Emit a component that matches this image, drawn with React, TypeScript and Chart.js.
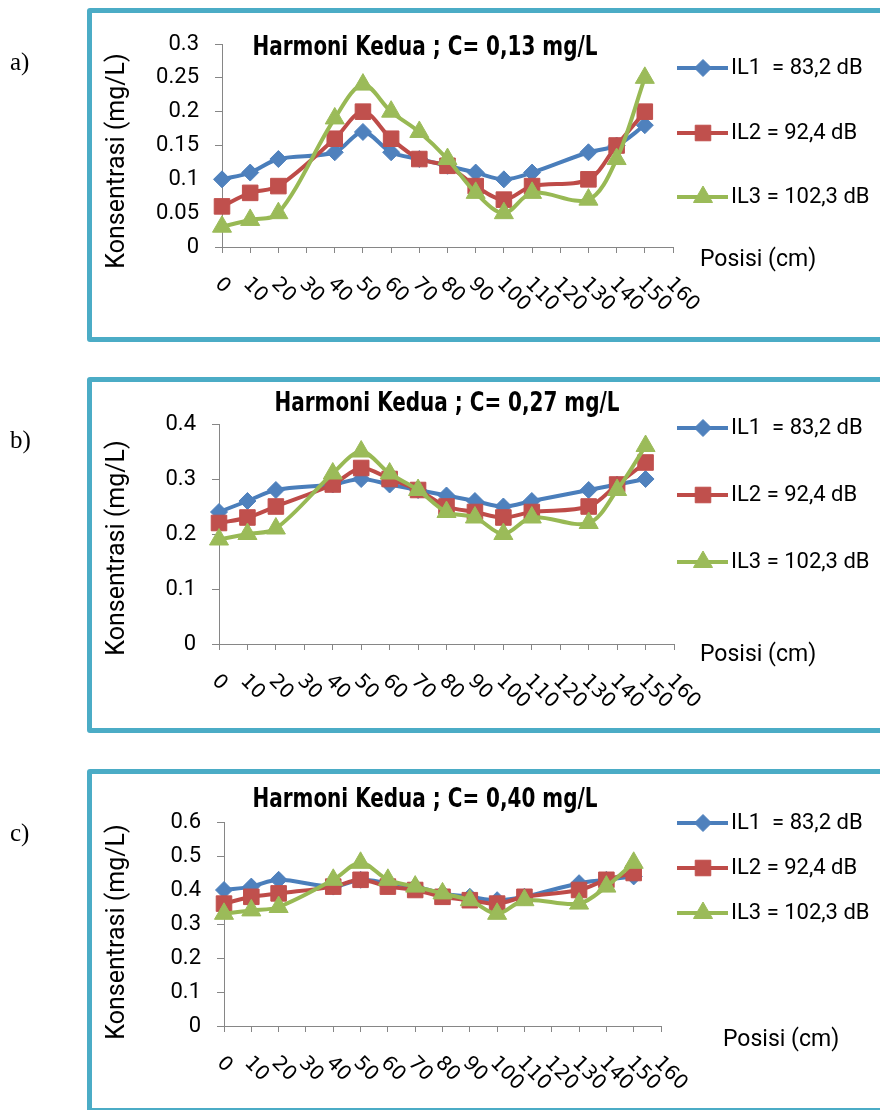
import React, { useEffect, useRef } from 'react';
import { Chart, registerables } from 'chart.js';
import { drawPoint } from 'chart.js/helpers';

Chart.register(...registerables);

// ---------- DATA ----------
const positions = ['0', '10', '20', '30', '40', '50', '60', '70', '80', '90', '100', '110', '120', '130', '140', '150', '160'];
const seriesNames = ['IL1  = 83,2 dB', 'IL2 = 92,4 dB', 'IL3 = 102,3 dB'];

// Panel a) C = 0,13 mg/L
const a_IL1 = [0.10, 0.11, 0.13, null, 0.14, 0.17, 0.14, 0.13, 0.12, 0.11, 0.10, 0.11, null, 0.14, 0.15, 0.18, null];
const a_IL2 = [0.06, 0.08, 0.09, null, 0.16, 0.20, 0.16, 0.13, 0.12, 0.09, 0.07, 0.09, null, 0.10, 0.15, 0.20, null];
const a_IL3 = [0.03, 0.04, 0.05, null, 0.19, 0.24, 0.20, 0.17, 0.13, 0.08, 0.05, 0.08, null, 0.07, 0.13, 0.25, null];

// Panel b) C = 0,27 mg/L
const b_IL1 = [0.24, 0.26, 0.28, null, 0.29, 0.30, 0.29, 0.28, 0.27, 0.26, 0.25, 0.26, null, 0.28, 0.29, 0.30, null];
const b_IL2 = [0.22, 0.23, 0.25, null, 0.29, 0.32, 0.30, 0.28, 0.25, 0.24, 0.23, 0.24, null, 0.25, 0.29, 0.33, null];
const b_IL3 = [0.19, 0.20, 0.21, null, 0.31, 0.35, 0.31, 0.28, 0.24, 0.23, 0.20, 0.23, null, 0.22, 0.28, 0.36, null];

// Panel c) C = 0,40 mg/L
const c_IL1 = [0.40, 0.41, 0.43, null, 0.41, 0.43, 0.42, 0.41, 0.39, 0.38, 0.37, 0.38, null, 0.42, 0.43, 0.44, null];
const c_IL2 = [0.36, 0.38, 0.39, null, 0.41, 0.43, 0.41, 0.40, 0.38, 0.37, 0.36, 0.38, null, 0.40, 0.43, 0.45, null];
const c_IL3 = [0.33, 0.34, 0.35, null, 0.43, 0.48, 0.43, 0.41, 0.39, 0.37, 0.33, 0.37, null, 0.36, 0.41, 0.48, null];

const titles = ['Harmoni Kedua ; C= 0,13 mg/L', 'Harmoni Kedua ; C= 0,27 mg/L', 'Harmoni Kedua ; C= 0,40 mg/L'];
const yMaxes = [0.3, 0.4, 0.6];
const ySteps = [0.05, 0.1, 0.1];
const yTitle = 'Konsentrasi (mg/L)';
const xTitle = 'Posisi (cm)';
const panelLetters = ['a)', 'b)', 'c)'];

// ---------- STYLE ----------
const lineColors = ['#4A7EBB', '#BE4B48', '#98B954'];
const markColors = ['#4F81BD', '#C0504D', '#9BBB59'];
const markStyles = ['rectRot', 'rect', 'triangle'];
const markRadius = [8.5, 11, 11];
const AXIS = '#868686';
const BORDER = '#4BACC6';

type Layout = {
  top: number; height: number;
  pad: { top: number; left: number; right: number; bottom: number };
  title: { x: number; y: number };
  yTitleY: number;
  legendY: number[];
  posisi: { x: number; y: number };
  letterY: number;
};

const layouts: Layout[] = [
  { top: 8, height: 334, pad: { top: 36, left: 122, right: 207, bottom: 85 }, title: { x: 425, y: 48 }, yTitleY: 161, legendY: [68, 133, 197], posisi: { x: 700, y: 260 }, letterY: 62 },
  { top: 377, height: 356, pad: { top: 47, left: 119, right: 206, bottom: 79 }, title: { x: 447, y: 404 }, yTitleY: 548, legendY: [428, 495, 562], posisi: { x: 700, y: 655 }, letterY: 440 },
  { top: 769, height: 344, pad: { top: 53, left: 124, right: 219, bottom: 77 }, title: { x: 425, y: 800 }, yTitleY: 932, legendY: [823, 868, 913], posisi: { x: 723, y: 1040 }, letterY: 833 },
];

const TITLE_WIDTH = 345;

const panelData = [
  [a_IL1, a_IL2, a_IL3],
  [b_IL1, b_IL2, b_IL3],
  [c_IL1, c_IL2, c_IL3],
];

function Panel({ idx }: { idx: number }) {
  const ref = useRef<HTMLCanvasElement | null>(null);
  const L = layouts[idx];

  useEffect(() => {
    if (!ref.current) return;
    const top = L.top;
    const decor = {
      id: 'decor' + idx,
      afterDraw(chart: any) {
        const ctx = chart.ctx as CanvasRenderingContext2D;
        const xs = chart.scales.x;
        const area = chart.chartArea;
        ctx.save();
        // rotated x tick labels
        ctx.fillStyle = '#000';
        ctx.font = '20px "DejaVu Sans", sans-serif';
        ctx.textAlign = 'left';
        ctx.textBaseline = 'middle';
        positions.forEach((lab, i) => {
          const px = xs.getPixelForValue(i);
          ctx.save();
          ctx.translate(px - 4, area.bottom + 34);
          ctx.rotate(Math.PI / 4);
          ctx.fillText(lab, 0, 0);
          ctx.restore();
        });
        // title (condensed bold)
        ctx.save();
        ctx.font = 'bold 26px "DejaVu Sans Condensed", "DejaVu Sans", sans-serif';
        ctx.textAlign = 'center';
        const w = ctx.measureText(titles[idx]).width;
        const sx = TITLE_WIDTH / w;
        ctx.translate(L.title.x, L.title.y - top);
        ctx.scale(sx, 1);
        ctx.fillText(titles[idx], 0, 0);
        ctx.restore();
        // y title
        ctx.save();
        ctx.translate(118, L.yTitleY - top);
        ctx.rotate(-Math.PI / 2);
        ctx.font = '25px Roboto, sans-serif';
        ctx.textAlign = 'center';
        ctx.fillText(yTitle, 0, 0);
        ctx.restore();
        // x title
        ctx.font = '23px Roboto, sans-serif';
        ctx.textAlign = 'left';
        ctx.fillText(xTitle, L.posisi.x, L.posisi.y - top);
        // legend
        chart.data.datasets.forEach((ds: any, i: number) => {
          const y = L.legendY[i] - top;
          ctx.strokeStyle = lineColors[i];
          ctx.lineWidth = 4;
          ctx.beginPath();
          ctx.moveTo(677, y);
          ctx.lineTo(728, y);
          ctx.stroke();
          ctx.fillStyle = markColors[i];
          ctx.strokeStyle = markColors[i];
          ctx.lineWidth = 1;
          drawPoint(ctx, { pointStyle: markStyles[i], radius: markRadius[i], rotation: 0, borderWidth: 1 } as any, 703, y);
          ctx.fillStyle = '#000';
          ctx.font = '22px Roboto, sans-serif';
          ctx.textBaseline = 'middle';
          ctx.fillText(ds.label, 731, y);
        });
        ctx.restore();
      },
    };

    const chart = new Chart(ref.current, {
      type: 'line',
      data: {
        labels: positions,
        datasets: panelData[idx].map((vals, i) => ({
          label: seriesNames[i],
          data: vals,
          borderColor: lineColors[i],
          backgroundColor: markColors[i],
          borderWidth: 4,
          tension: 0.33,
          spanGaps: true,
          fill: false,
          pointStyle: markStyles[i] as any,
          pointRadius: markRadius[i],
          pointBackgroundColor: markColors[i],
          pointBorderColor: markColors[i],
          pointBorderWidth: 1,
          order: 2 - i,
        })),
      },
      options: {
        responsive: false,
        animation: false,
        events: [],
        layout: { padding: L.pad },
        plugins: { legend: { display: false }, title: { display: false }, tooltip: { enabled: false } },
        scales: {
          x: {
            type: 'category',
            offset: false,
            ticks: { display: false },
            grid: { display: true, drawOnChartArea: false, drawTicks: true, tickLength: 6, color: AXIS },
            border: { display: true, color: AXIS, width: 1 },
            afterFit: (s: any) => { s.height = 10; },
          },
          y: {
            min: 0,
            max: yMaxes[idx],
            ticks: {
              stepSize: ySteps[idx],
              padding: 16,
              color: '#000',
              font: { family: 'Roboto', size: 22 },
              callback: (v: any) => String(Math.round(Number(v) * 100) / 100),
            },
            grid: { display: true, drawOnChartArea: false, drawTicks: true, tickLength: 7, color: AXIS },
            border: { display: true, color: AXIS, width: 1 },
            afterFit: (s: any) => { s.width = 100; },
          },
        },
      },
      plugins: [decor],
    });
    return () => chart.destroy();
  }, [idx]);

  return (
    <>
      <div
        style={{
          position: 'absolute', left: 87, top: L.top, width: 860, height: L.height,
          boxSizing: 'border-box', border: `5px solid ${BORDER}`, borderRadius: 3,
        }}
      />
      <canvas
        ref={ref}
        width={880}
        height={L.height}
        style={{ position: 'absolute', left: 0, top: L.top, width: 880, height: L.height }}
      />
      <div
        style={{
          position: 'absolute', left: 10, top: L.letterY - 14, fontFamily: '"Liberation Serif", "Times New Roman", serif',
          fontSize: 25, lineHeight: '28px', color: '#000',
        }}
      >
        {panelLetters[idx]}
      </div>
    </>
  );
}

export default function App() {
  return (
    <div style={{ position: 'absolute', left: 0, top: 0, width: 880, height: 1110, overflow: 'hidden', background: '#fff' }}>
      <Panel idx={0} />
      <Panel idx={1} />
      <Panel idx={2} />
    </div>
  );
}
